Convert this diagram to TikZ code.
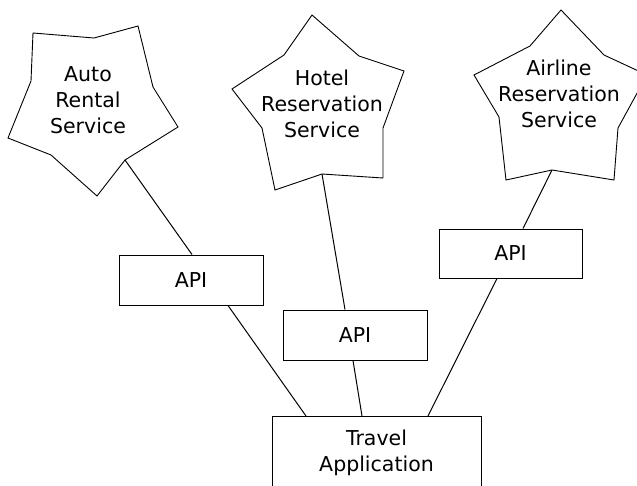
\documentclass[tikz,border=0pt]{standalone}
\usepackage{fontspec}
\setmainfont{DejaVu Sans}
\usetikzlibrary{calc}
\begin{document}
\begin{tikzpicture}[x=1pt,y=-1pt,
  every node/.style={font=\fontsize{20.5}{26}\selectfont, align=center},
  starline/.style={draw=black, line width=0.9pt, line join=miter},
  box/.style={draw=black, line width=1pt, inner sep=0pt, fill=white},
  conn/.style={draw=black, line width=1pt},
  label/.style={inner sep=0pt}]
\useasboundingbox[fill=white] (0,0) rectangle (637,485);

% Auto Rental star
\coordinate (a1) at (33,33);  \coordinate (a2) at (94,38);
\coordinate (a3) at (138,26); \coordinate (a4) at (153,87);
\coordinate (a5) at (178,127);\coordinate (a6) at (125,160);
\coordinate (a7) at (97,196); \coordinate (a8) at (51,155);
\coordinate (a9) at (8,138);  \coordinate (a10) at (31,81);
\draw[starline] (a1)--(a2)--(a3)--(a4)--(a5)--(a6)--(a7)--(a8)--(a9)--(a10)--cycle;
\node[label] (auto) at (88,100) {Auto\\Rental\\Service};

% Hotel star
\coordinate (h1) at (312,15);  \coordinate (h2) at (359,56);
\coordinate (h3) at (404,71);  \coordinate (h4) at (383,128);
\coordinate (h5) at (383,178); \coordinate (h6) at (322,174);
\coordinate (h7) at (275,190); \coordinate (h8) at (262,128);
\coordinate (h9) at (232,89);  \coordinate (h10) at (284,55);
\draw[starline] (h1)--(h2)--(h3)--(h4)--(h5)--(h6)--(h7)--(h8)--(h9)--(h10)--cycle;
\node[label] (hotel) at (322,104) {Hotel\\Reservation\\Service};

% Airline star
\coordinate (r1) at (561,10);  \coordinate (r2) at (604,55);
\coordinate (r3) at (647,75);  \coordinate (r4) at (618,128);
\coordinate (r5) at (614,180); \coordinate (r6) at (552,170);
\coordinate (r7) at (506,180); \coordinate (r8) at (499,117);
\coordinate (r9) at (474,75);  \coordinate (r10) at (530,46);
\draw[starline] (r1)--(r2)--(r3)--(r4)--(r5)--(r6)--(r7)--(r8)--(r9)--(r10)--cycle;
\node[label] (airline) at (559,94) {Airline\\Reservation\\Service};

% API boxes
\node[box, minimum width=144, minimum height=50] (api1) at (191,280) {API};
\node[box, minimum width=144, minimum height=50] (api2) at (355,335) {API};
\node[box, minimum width=143, minimum height=49] (api3) at (510.5,253.5) {API};

% Travel application
\node[box, minimum width=209, minimum height=72, anchor=north] (travel) at (376.5,416) {Travel\\Application};

% Connectors
\draw[conn] (a6) -- ([xshift=1pt]api1.north);
\draw[conn] ([xshift=37pt]api1.south) -- ([xshift=-70.5pt]travel.north);
\draw[conn] (h6) -- ([xshift=-10pt]api2.north);
\draw[conn] ([xshift=-2pt]api2.south) -- ([xshift=-14.5pt]travel.north);
\draw[conn] (r6) -- ([xshift=12.5pt]api3.north);
\draw[conn] ([xshift=-13.5pt]api3.south) -- ([xshift=51.5pt]travel.north);
\end{tikzpicture}
\end{document}
